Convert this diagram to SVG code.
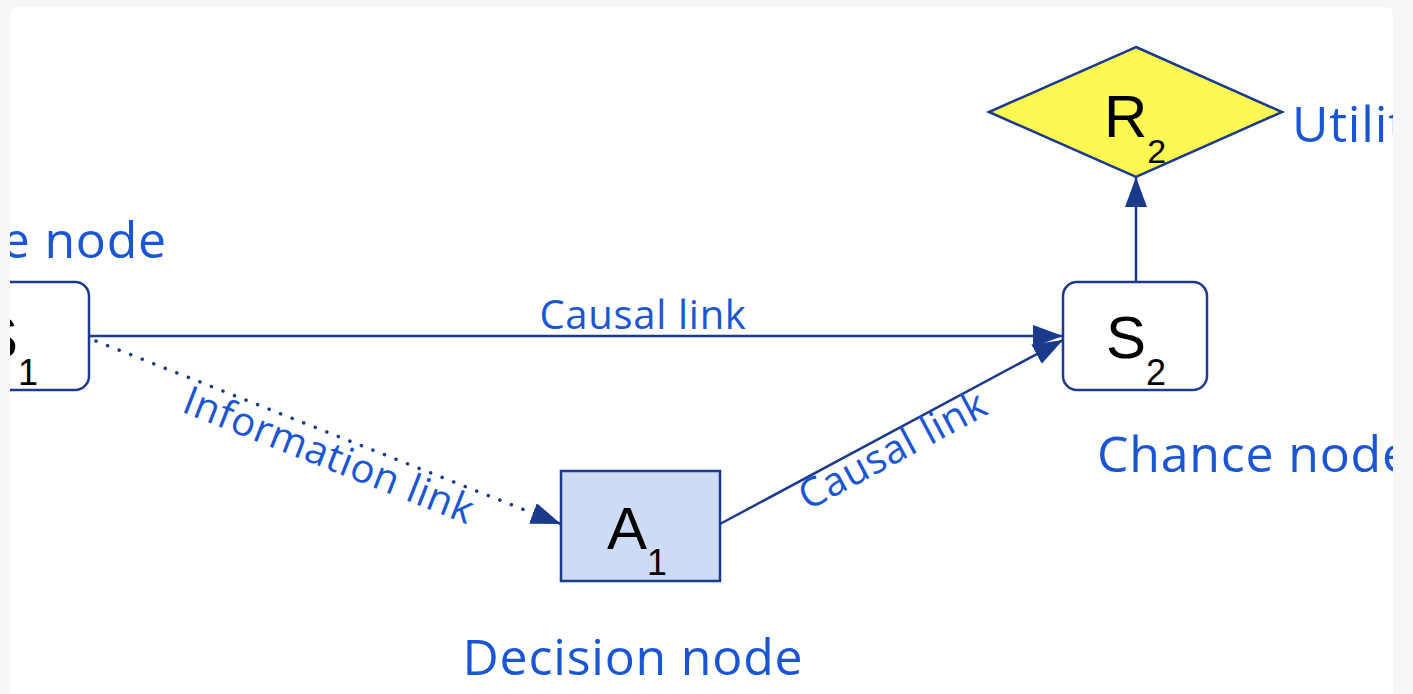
<svg xmlns="http://www.w3.org/2000/svg" width="1413" height="694" viewBox="0 0 1413 694">
<style>
.lbl{font-family:"Open Sans","Noto Sans",sans-serif;fill:#1a56d4;}
.big{font-size:50px;letter-spacing:0.8px;}
.mid{font-size:40px;letter-spacing:0.7px;}
.sym{font-family:"Liberation Sans",Arial,sans-serif;fill:#000;font-size:60px;}
.edge{stroke:#1b3a8c;stroke-width:2.5;fill:none;}
.dot{stroke:#1b3a8c;stroke-width:3.5;fill:none;stroke-dasharray:0.1 12.3;stroke-linecap:round;}
.node{stroke:#1b3a8c;stroke-width:2.5;}
</style>
<defs>
<marker id="ah" markerUnits="userSpaceOnUse" markerWidth="32" markerHeight="24" refX="30" refY="11" orient="auto">
<path d="M0,0 L30,11 L0,22 z" fill="#1b3a8c"/>
</marker>
<clipPath id="panel"><rect x="10" y="7" width="1383" height="700" rx="8"/></clipPath>
</defs>
<rect x="0" y="0" width="1413" height="694" fill="#f7f7f7"/>
<rect x="10" y="7" width="1383" height="700" rx="8" fill="#ffffff"/>
<g clip-path="url(#panel)">
<g id="connectors">
<line class="edge" x1="89" y1="336" x2="1063" y2="336" marker-end="url(#ah)"/>
<line class="edge" x1="720" y1="524" x2="1063" y2="340" marker-end="url(#ah)"/>
<line class="dot" x1="96" y1="341" x2="540" y2="516"/>
<line class="edge" x1="545" y1="518" x2="561" y2="524" marker-end="url(#ah)"/>
<line class="edge" x1="1136" y1="282" x2="1136" y2="177" marker-end="url(#ah)"/>
<text class="lbl mid" x="643" y="329" text-anchor="middle">Causal link</text>
<text class="lbl mid" text-anchor="middle" transform="translate(324,468) rotate(21.5)">Information link</text>
<text class="lbl mid" text-anchor="middle" transform="translate(899,462) rotate(-28.2)">Causal link</text>
</g>
<g id="S1">
<rect class="node" x="-55" y="282" width="144" height="108" rx="14" fill="#ffffff"/>
<text class="sym" x="-22" y="358">S<tspan font-size="36" dy="27">1</tspan></text>
<text class="lbl big" x="167" y="258" text-anchor="end">Chance node</text>
</g>
<g id="S2">
<rect class="node" x="1063" y="282" width="144" height="108" rx="14" fill="#ffffff"/>
<text class="sym" x="1106" y="358">S<tspan font-size="36" dy="27">2</tspan></text>
<text class="lbl big" x="1097" y="472">Chance node</text>
</g>
<g id="A1">
<rect class="node" x="561" y="471" width="159" height="110" fill="#cddcf4"/>
<text class="sym" x="607" y="549" font-size="63">A<tspan font-size="36" dy="26">1</tspan></text>
<text class="lbl big" x="633" y="675" text-anchor="middle">Decision node</text>
</g>
<g id="R2">
<polygon class="node" points="1136,47 1282,112 1136,177 989,112" fill="#fdf852"/>
<text class="sym" x="1104" y="137">R<tspan font-size="34" dy="26">2</tspan></text>
<text class="lbl big" x="1292" y="142">Utility node</text>
</g>
</g>
</svg>
